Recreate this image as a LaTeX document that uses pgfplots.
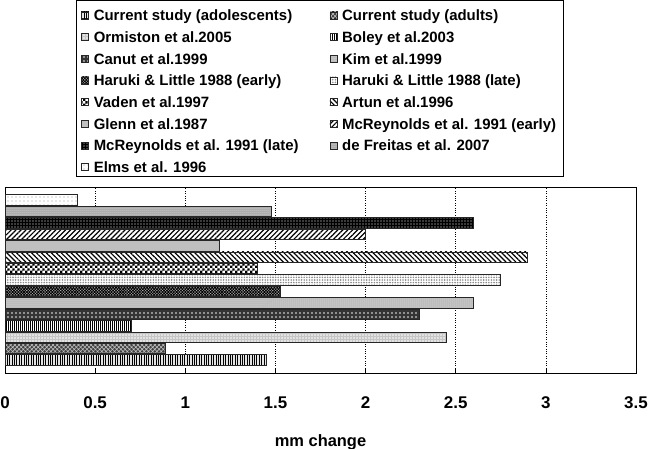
\documentclass[border=0pt]{standalone}
\usepackage{fontspec}
\setmainfont{Liberation Sans}
\usepackage{pgfplots}
\pgfplotsset{compat=1.18}
\usetikzlibrary{patterns,patterns.meta}
\pgfdeclarepatternformonly{smallchecker}{\pgfpointorigin}{\pgfqpoint{5.2bp}{5.2bp}}{\pgfqpoint{5.2bp}{5.2bp}}{%
  \pgfpathrectangle{\pgfpointorigin}{\pgfqpoint{2.6bp}{2.6bp}}%
  \pgfpathrectangle{\pgfqpoint{2.6bp}{2.6bp}}{\pgfqpoint{2.6bp}{2.6bp}}%
  \pgfusepath{fill}}
\newcommand\LE[1]{\makebox[216bp][l]{#1}}
\pgfplotsset{bb/.style={bar shift=0pt, draw=black!85, line width=0.7bp}}
\begin{document}
\begin{tikzpicture}[x=1bp,y=1bp]
\path[use as bounding box] (0,0) rectangle (650,449);
\begin{axis}[
  at={(5bp,76bp)}, anchor=south west,
  width=631bp, height=186bp, scale only axis,
  xmin=0, xmax=3.5, ymin=-0.137, ymax=16.137,
  xtick={0,0.5,...,3.5}, ytick=\empty,
  xtick pos=left, tick align=inside, major tick length=4bp,
  xmajorgrids, grid style={black, dotted, line width=0.7pt},
  axis line style={black, line width=0.8pt},
  tick style={black, line width=0.6pt},
  /pgf/number format/assume math mode=true,
  xticklabel style={font=\bfseries\fontsize{17}{17}\selectfont, anchor=base, yshift=-36bp},
  xlabel={mm change},
  xlabel style={font=\bfseries\fontsize{16.5}{16.5}\selectfont, at={(axis description cs:0.5,0)}, anchor=base, yshift=-74bp},
  xbar, bar width=10.5bp,
  legend columns=2,
  legend style={at={(axis description cs:0.1125,2.0054)}, anchor=north west, draw=black, line width=0.8pt,
    inner xsep=5bp, inner ysep=1bp, font=\bfseries\fontsize{15}{15}\selectfont,
    cells={anchor=base west},
    nodes={inner sep=0pt, text height=19.4bp, text depth=2.3bp},
    /tikz/every odd column/.style={column sep=5bp}, /tikz/every even column/.style={column sep=20bp}},
  legend image code/.code={\draw[#1, line width=0.4pt] (0bp,2bp) rectangle (7bp,9bp);},
]
\addplot[bb, preaction={fill=gray!20}, pattern={Lines[angle=90,distance=2.4bp,line width=1bp]}, pattern color=black] coordinates {(1.45,1)};
\addlegendentry{\LE{Current study (adolescents)}}
\addplot[bb, preaction={fill=black!75}, pattern={Hatch[angle=45,distance=3bp,line width=0.6bp]}, pattern color=gray!50] coordinates {(0.89,2)};
\addlegendentry{\LE{Current study (adults)}}
\addplot[bb, preaction={fill=gray!45}, pattern={Dots[distance=3bp,radius=0.9bp]}, pattern color=white] coordinates {(2.45,3)};
\addlegendentry{\LE{Ormiston et al.2005}}
\addplot[bb, preaction={fill=white}, pattern={Lines[angle=90,distance=2bp,line width=1bp]}, pattern color=black] coordinates {(0.70,4)};
\addlegendentry{\LE{Boley et al.2003}}
\addplot[bb, preaction={fill=black!80}, pattern={Dots[distance=4bp,radius=1.2bp]}, pattern color=gray!60] coordinates {(2.30,5)};
\addlegendentry{\LE{Canut et al.1999}}
\addplot[bb, preaction={fill=gray!55}, pattern={Dots[distance=2bp,radius=0.5bp]}, pattern color=gray!15] coordinates {(2.60,6)};
\addlegendentry{\LE{Kim et al.1999}}
\addplot[bb, preaction={fill=gray!50}, pattern={Hatch[angle=45,distance=2bp,line width=0.8bp]}, pattern color=black] coordinates {(1.53,7)};
\addlegendentry{\LE{Haruki \& Little 1988 (early)}}
\addplot[bb, preaction={fill=white}, pattern={Dots[distance=2.6bp,radius=0.9bp]}, pattern color=gray!90] coordinates {(2.75,8)};
\addlegendentry{\LE{Haruki \& Little 1988 (late)}}
\addplot[bb, preaction={fill=white}, pattern=smallchecker, pattern color=black] coordinates {(1.40,9)};
\addlegendentry{\LE{Vaden et al.1997}}
\addplot[bb, preaction={fill=white}, pattern={Lines[angle=-45,distance=3.5bp,line width=1.2bp]}, pattern color=black] coordinates {(2.90,10)};
\addlegendentry{\LE{Artun et al.1996}}
\addplot[bb, fill=gray!50] coordinates {(1.19,11)};
\addlegendentry{\LE{Glenn et al.1987}}
\addplot[bb, preaction={fill=white}, pattern={Lines[angle=45,distance=3.5bp,line width=1.2bp]}, pattern color=black] coordinates {(2.00,12)};
\addlegendentry{\LE{McReynolds et al. 1991 (early)}}
\addplot[bb, preaction={fill=black}, pattern={Dots[distance=3bp,radius=0.6bp]}, pattern color=white] coordinates {(2.60,13)};
\addlegendentry{\LE{McReynolds et al. 1991 (late)}}
\addplot[bb, preaction={fill=gray!70}, pattern={Dots[distance=2bp,radius=0.5bp]}, pattern color=white] coordinates {(1.48,14)};
\addlegendentry{\LE{de Freitas et al. 2007}}
\addplot[bb, preaction={fill=white}, pattern={Dots[distance=4bp,radius=0.6bp]}, pattern color=gray!80] coordinates {(0.40,15)};
\addlegendentry{\LE{Elms et al. 1996}}
\end{axis}
\end{tikzpicture}
\end{document}
